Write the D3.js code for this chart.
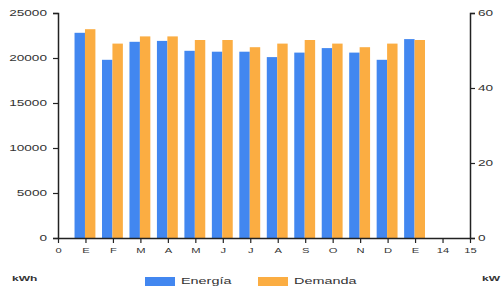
<!DOCTYPE html>
<html>
<head>
<meta charset="utf-8">
<script src="https://cdn.jsdelivr.net/npm/d3@7"></script>
<style>
  body { margin: 0; background: #fff; }
  svg { display: block; }
  text { font-family: "Liberation Sans", Arial, sans-serif; fill: #333; }
</style>
</head>
<body>
<div id="chart"></div>
<script>
// months shown at ticks 1..13, extra ticks 0, 14, 15 are numbers
var tickLabels = ["0", "E", "F", "M", "A", "M", "J", "J", "A", "S", "O", "N", "D", "E", "14", "15"];
var positions = [1, 2, 3, 4, 5, 6, 7, 8, 9, 10, 11, 12, 13];
var energia = [22800, 19800, 21800, 21900, 20800, 20700, 20700, 20100, 20600, 21100, 20600, 19800, 22100];
var demanda = [23200, 21600, 22400, 22400, 22000, 22000, 21200, 21600, 22000, 21600, 21200, 21600, 22000];
var leftTicks = [0, 5000, 10000, 15000, 20000, 25000];
var rightTicks = [0, 20, 40, 60];
var seriesNames = ["Energía", "Demanda"];

var width = 503, height = 286;
var blue = "#4287f0", orange = "#fbad42";
var stretch = 1.6;

var svg = d3.select("#chart").append("svg")
    .attr("width", width)
    .attr("height", height);

var x = d3.scaleLinear().domain([0, 15]).range([58, 470]);
var yL = d3.scaleLinear().domain([0, 25000]).range([238, 13]);
var yR = d3.scaleLinear().domain([0, 60]).range([238, 13]);
var barW = (x(1) - x(0)) * 0.38;

// bars
svg.append("g").selectAll("rect")
    .data(energia)
    .enter().append("rect")
    .attr("x", function (d, i) { return x(positions[i]) - barW - 0.5; })
    .attr("y", function (d) { return yL(d); })
    .attr("width", barW)
    .attr("height", function (d) { return yL(0) - yL(d); })
    .attr("fill", blue);

svg.append("g").selectAll("rect")
    .data(demanda)
    .enter().append("rect")
    .attr("x", function (d, i) { return x(positions[i]) - 0.5; })
    .attr("y", function (d) { return yL(d); })
    .attr("width", barW)
    .attr("height", function (d) { return yL(0) - yL(d); })
    .attr("fill", orange);

// stretch the text wide, like the original export
function widen(sel, size) {
  sel.each(function () {
    var t = d3.select(this);
    var tx = +t.attr("x") || 0, ty = +t.attr("y") || 0;
    t.attr("x", 0).attr("y", 0)
      .attr("transform", "translate(" + tx + "," + ty + ") scale(" + stretch + ",1)")
      .style("font-size", size + "px")
      .attr("fill", "#555");
  });
}

function styleAxis(g) {
  g.select(".domain").attr("stroke", "#222").attr("stroke-width", 1.5);
  g.selectAll(".tick line").attr("stroke", "#222").attr("stroke-width", 1.2);
}

var gl = svg.append("g")
    .attr("transform", "translate(58,0)")
    .call(d3.axisLeft(yL).tickValues(leftTicks).tickFormat(d3.format("d"))
      .tickSize(5).tickPadding(6).tickSizeOuter(5));
styleAxis(gl);
widen(gl.selectAll("text").attr("font-family", null), 8.5);

var gr = svg.append("g")
    .attr("transform", "translate(470,0)")
    .call(d3.axisRight(yR).tickValues(rightTicks).tickFormat(d3.format("d"))
      .tickSize(5).tickPadding(3).tickSizeOuter(5));
styleAxis(gr);
widen(gr.selectAll("text").attr("font-family", null), 8.5);

var gb = svg.append("g")
    .attr("transform", "translate(0,238)")
    .call(d3.axisBottom(x).tickValues(d3.range(0, 16))
      .tickFormat(function (d) { return tickLabels[d]; })
      .tickSize(5).tickPadding(4).tickSizeOuter(0));
styleAxis(gb);
gb.selectAll("text").attr("font-family", null).attr("dy", null).attr("y", 15);
widen(gb.selectAll("text"), 7);

// unit labels
var unitL = svg.append("text").attr("x", 12).attr("y", 281).attr("font-weight", "bold").text("kWh");
widen(unitL, 7.5);
unitL.attr("fill", "#333");
var unitR = svg.append("text").attr("x", 482).attr("y", 281).attr("font-weight", "bold").text("kW");
widen(unitR, 7.5);
unitR.attr("fill", "#333");

// legend
var legendX = [145, 258];
var legendColors = [blue, orange];
var lg = svg.append("g").selectAll("g")
    .data(seriesNames)
    .enter().append("g")
    .attr("transform", function (d, i) { return "translate(" + legendX[i] + ",277)"; });
lg.append("rect")
    .attr("width", 30)
    .attr("height", 10)
    .attr("fill", function (d, i) { return legendColors[i]; });
lg.append("text")
    .attr("x", 36)
    .attr("y", 7)
    .text(function (d) { return d; })
    .call(widen, 9);
</script>
</body>
</html>
